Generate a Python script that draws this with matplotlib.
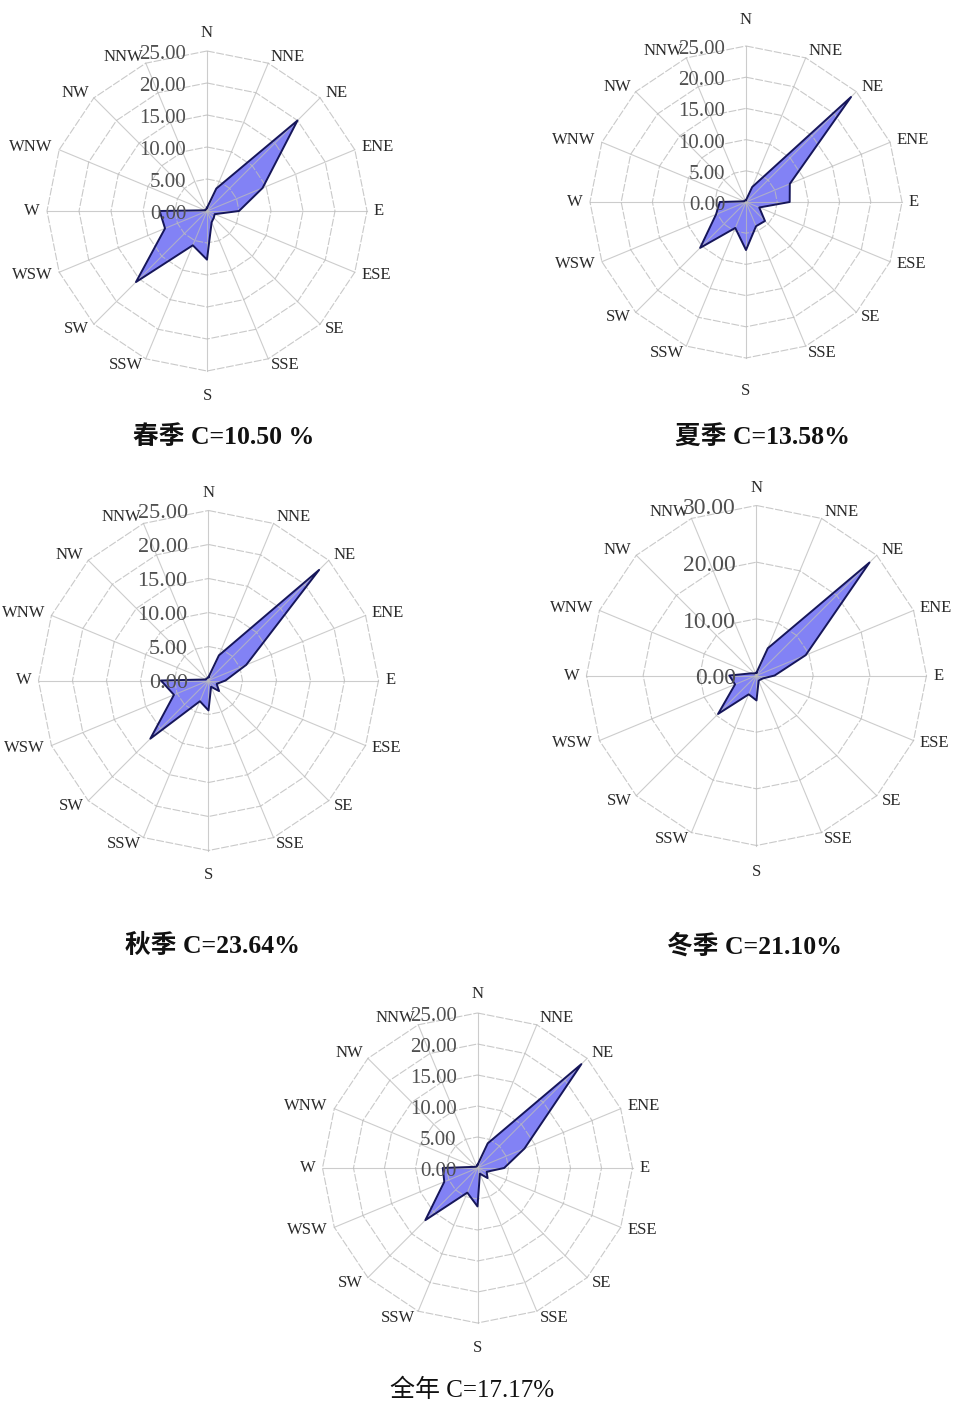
import numpy as np
import matplotlib
matplotlib.use("Agg")
import matplotlib.pyplot as plt

DIRS = ["N", "NNE", "NE", "ENE", "E", "ESE", "SE", "SSE",
        "S", "SSW", "SW", "WSW", "W", "WNW", "NW", "NNW"]

# wind direction frequency (%)
SPRING = [0.5, 3.8, 20.0, 9.4, 5.0, 1.3, 1.5, 1.9, 7.6, 5.8, 15.7, 7.1, 7.4, 0.3, 0.3, 0.3]
SUMMER = [0.3, 2.6, 23.8, 7.6, 7.0, 2.3, 4.3, 4.2, 7.7, 4.5, 10.4, 5.2, 4.2, 0.3, 0.3, 0.3]
AUTUMN = [0.5, 4.0, 23.0, 6.0, 2.5, 1.3, 2.2, 1.0, 4.4, 3.3, 12.1, 5.5, 7.0, 0.4, 0.4, 0.4]
WINTER = [0.5, 5.2, 28.2, 9.4, 3.2, 1.3, 1.0, 1.0, 4.4, 3.6, 9.6, 4.1, 4.8, 1.0, 0.5, 0.5]
ANNUAL = [0.5, 4.3, 23.7, 8.2, 4.3, 1.6, 2.3, 1.0, 6.2, 4.3, 11.9, 5.8, 5.6, 0.5, 0.3, 0.3]

TITLES = ["春季 C=10.50 %", "夏季 C=13.58%", "秋季 C=23.64%", "冬季 C=21.10%", "全年 C=17.17%"]
RMAX = [25, 25, 25, 30, 25]
RSTEP = [5, 5, 5, 10, 5]

W, H = 962, 1405
FILL, EDGE, GRID = "#8282f5", "#16165a", "#bcbcbc"
SERIF = ["Liberation Serif", "Noto Sans CJK SC"]

# pixel layout: rose centre / radius, title centre, N/S label offsets (pt)
LAYOUT = [
    dict(cx=207, cy=211, r=160, tx=224, ty=437, bold=True, fs=15, n_off=7, s_off=12),
    dict(cx=746, cy=202, r=156, tx=762, ty=437, bold=True, fs=15, n_off=13, s_off=18),
    dict(cx=208.5, cy=680.5, r=170, tx=212, ty=946, bold=True, fs=16, n_off=7, s_off=12),
    dict(cx=756.5, cy=675.5, r=170, tx=754, ty=946, bold=True, fs=17, n_off=7, s_off=13),
    dict(cx=477.5, cy=1168, r=155, tx=472, ty=1390, bold=False, fs=15, n_off=8, s_off=12),
]


def rose(ax, vals, rmax, step, lay):
    th = np.deg2rad(np.arange(len(DIRS)) * 22.5)
    ax.set_theta_zero_location("N")
    ax.set_theta_direction(-1)
    ax.set_ylim(0, rmax)
    ax.grid(False)
    ax.set_xticks([])
    ax.set_yticks([])
    ax.spines["polar"].set_visible(False)
    ax.patch.set_alpha(0)

    thc = np.append(th, th[0])
    v = np.append(vals, vals[0])
    ax.fill(thc, v, color=FILL, lw=0, zorder=2)
    levels = np.arange(step, rmax + step / 2, step)
    for lev in levels:
        ax.plot(thc, np.full_like(thc, lev), color=GRID, lw=0.8, alpha=0.8,
                ls=(0, (7, 1.5)), zorder=3, clip_on=False)
    for t in th:
        ax.plot([t, t], [0, rmax], color=GRID, lw=0.8, alpha=0.75, zorder=3, clip_on=False)
    ax.plot(thc, v, color=EDGE, lw=1.4, zorder=4)

    for lev in np.append(0, levels):
        ax.annotate(f"{lev:.2f}", xy=(0, lev), xytext=(-15, -2.5), textcoords="offset points",
                    ha="right", va="center", fontsize=lay["fs"], color="#505050",
                    family="Liberation Serif", zorder=5)

    for t, name in zip(th, DIRS):
        s, c = np.sin(t), np.cos(t)
        ha = "left" if s > 0.1 else ("right" if s < -0.1 else "center")
        va = "bottom" if c > 0.95 else ("top" if c < -0.95 else "center")
        off = lay["n_off"] if c > 0.95 else (lay["s_off"] if c < -0.95 else 5)
        ax.annotate(name, xy=(t, rmax), xytext=(off * s, off * c), textcoords="offset points",
                    ha=ha, va=va, fontsize=12, color="#2a2a2a", family="Liberation Serif")


fig = plt.figure(figsize=(W / 100, H / 100), dpi=100)
series = [SPRING, SUMMER, AUTUMN, WINTER, ANNUAL]
for vals, title, rmax, step, lay in zip(series, TITLES, RMAX, RSTEP, LAYOUT):
    r = lay["r"]
    ax = fig.add_axes([(lay["cx"] - r) / W, 1 - (lay["cy"] + r) / H, 2 * r / W, 2 * r / H],
                      projection="polar")
    rose(ax, vals, rmax, step, lay)
    fig.text(lay["tx"] / W, 1 - lay["ty"] / H, title, ha="center", va="center",
             fontsize=18.5 if lay["bold"] else 18, family=SERIF,
             weight="bold" if lay["bold"] else "normal", color="#111111")

fig.savefig("out.png", dpi=100)
